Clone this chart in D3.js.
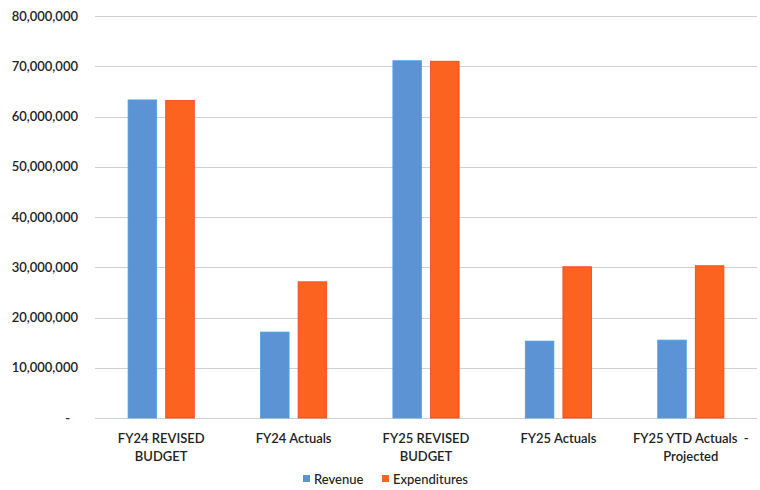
<!DOCTYPE html>
<html>
<head>
<meta charset="utf-8">
<script src="https://cdn.jsdelivr.net/npm/d3@7"></script>
<style>
  html, body { margin: 0; padding: 0; background: #fff; }
  svg { display: block; font-family: Lato, "Liberation Sans", sans-serif; }
</style>
</head>
<body>
<svg id="chart" width="760" height="490"></svg>
<script>
// Budget vs. actuals by fiscal period
const categories = [
  ["FY24 REVISED", "BUDGET"],
  ["FY24 Actuals"],
  ["FY25 REVISED", "BUDGET"],
  ["FY25 Actuals"],
  ["FY25 YTD Actuals  -", "Projected"]
];
const seriesNames = ["Revenue", "Expenditures"];
const revenue      = [63300000, 17100000, 71100000, 15300000, 15500000];
const expenditures = [63200000, 27100000, 71000000, 30100000, 30300000];
const yTicks = [0, 10000000, 20000000, 30000000, 40000000, 50000000, 60000000, 70000000, 80000000];

const colors = { Revenue: "#5b93d4", Expenditures: "#fc6320" };
const strokes = { Revenue: "#4aa0e6", Expenditures: "#f2411a" };

const svg = d3.select("#chart");
const margin = { left: 95, right: 3, top: 16, bottom: 72 };
const W = 760, H = 490;

const x0 = d3.scaleBand()
  .domain(d3.range(categories.length))
  .range([margin.left, W - margin.right])
  .paddingInner(0.5)
  .paddingOuter(0.25);
const x1 = d3.scaleBand()
  .domain(seriesNames)
  .range([0, x0.bandwidth()])
  .paddingInner(0.24);
const y = d3.scaleLinear()
  .domain([0, 80000000])
  .range([H - margin.bottom, margin.top]);

// gridlines
svg.append("g")
  .selectAll("line")
  .data(yTicks)
  .join("line")
  .attr("x1", margin.left)
  .attr("x2", W - margin.right)
  .attr("y1", d => Math.round(y(d)) + 0.5)
  .attr("y2", d => Math.round(y(d)) + 0.5)
  .attr("stroke", "#cfcfcf")
  .attr("stroke-width", 1);

// y axis labels
const fmt = d3.format(",");
const yAxis = d3.axisLeft(y)
  .tickValues(yTicks)
  .tickSize(0)
  .tickPadding(0)
  .tickFormat(d => d === 0 ? "-" : fmt(d));
const yg = svg.append("g")
  .attr("transform", `translate(${78},0)`)
  .call(yAxis);
yg.select(".domain").remove();
yg.selectAll("text")
  .attr("font-size", 13)
  .attr("font-weight", 600)
  .attr("fill", "#222")
  .attr("font-family", "Lato, sans-serif")
  .attr("dx", d => d === 0 ? -8 : 0);

// bars
const rows = categories.map((c, i) => ({ i, values: [
  { key: "Revenue", value: revenue[i] },
  { key: "Expenditures", value: expenditures[i] }
]}));
const groups = svg.append("g")
  .selectAll("g")
  .data(rows)
  .join("g")
  .attr("transform", d => `translate(${x0(d.i)},0)`);
groups.selectAll("rect")
  .data(d => d.values)
  .join("rect")
  .attr("x", d => x1(d.key))
  .attr("width", x1.bandwidth())
  .attr("y", d => y(d.value))
  .attr("height", d => y(0) - y(d.value))
  .attr("fill", d => colors[d.key])
  .attr("stroke", d => strokes[d.key])
  .attr("stroke-width", 0.8);

// category labels
const xg = svg.append("g");
categories.forEach((lines, i) => {
  const cx = x0(i) + x0.bandwidth() / 2;
  const t = xg.append("text")
    .attr("x", cx)
    .attr("y", 443)
    .attr("text-anchor", "middle")
    .attr("font-size", 13)
    .attr("font-weight", 600)
    .attr("fill", "#222");
  lines.forEach((ln, j) => {
    t.append("tspan")
      .attr("x", cx)
      .attr("dy", j === 0 ? 0 : 18)
      .attr("xml:space", "preserve")
      .text(ln);
  });
});

// legend
const legend = svg.append("g").attr("transform", "translate(303,479)");
const legendItems = [
  { key: "Revenue", x: 0 },
  { key: "Expenditures", x: 79 }
];
legendItems.forEach(it => {
  legend.append("rect")
    .attr("x", it.x)
    .attr("y", -4)
    .attr("width", 7)
    .attr("height", 7)
    .attr("fill", colors[it.key]);
  legend.append("text")
    .attr("x", it.x + 11)
    .attr("y", 4.5)
    .attr("font-size", 13)
    .attr("font-weight", 500)
    .attr("fill", "#222")
    .text(it.key);
});
</script>
</body>
</html>
